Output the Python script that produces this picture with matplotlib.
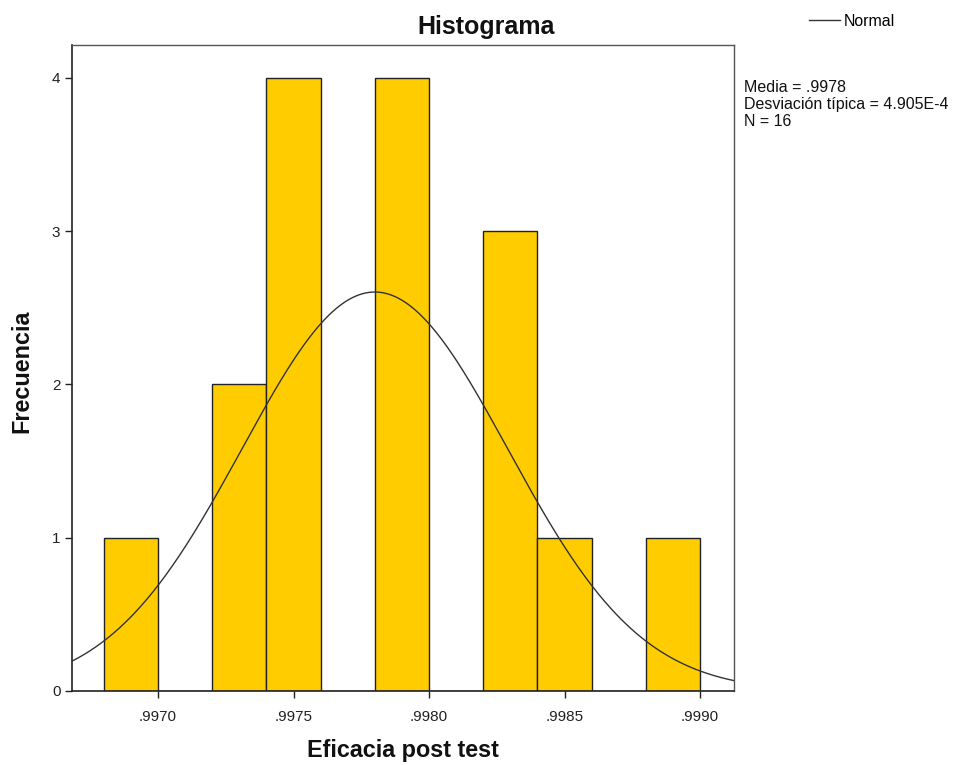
import numpy as np
import matplotlib
matplotlib.use("Agg")
import matplotlib.pyplot as plt

plt.rcParams['font.family'] = ['Liberation Sans', 'DejaVu Sans']

# Data
bin_edges = [0.9968, 0.9970, 0.9972, 0.9974, 0.9976, 0.9978, 0.9980,
             0.9982, 0.9984, 0.9986, 0.9988, 0.9990]
counts = [1, 0, 2, 4, 0, 4, 0, 3, 1, 0, 1]
mean = 0.9978
sd = 4.905e-4
n = 16
xticks = [0.9970, 0.9975, 0.9980, 0.9985, 0.9990]
xtick_labels = ['.9970', '.9975', '.9980', '.9985', '.9990']
yticks = [0, 1, 2, 3, 4]

fig = plt.figure(figsize=(9.65, 7.65), dpi=100)
ax = fig.add_axes([71.5/965, 74/765, (734-71.5)/965, (691-45)/765])

lefts = np.array(bin_edges[:-1])
widths = np.diff(bin_edges)
ax.bar(lefts, counts, width=widths, align='edge', color='#FFCC00',
       edgecolor='#222222', linewidth=1.0, zorder=2)

xlim = (0.996681, 0.999125)
xs = np.linspace(xlim[0], xlim[1], 400)
bw = bin_edges[1] - bin_edges[0]
ys = n * bw / (sd * np.sqrt(2 * np.pi)) * np.exp(-0.5 * ((xs - mean) / sd) ** 2)
line, = ax.plot(xs, ys, color='#333333', linewidth=1.0, zorder=3)

ax.set_xlim(*xlim)
ax.set_ylim(0, 4.214)
ax.set_xticks(xticks)
ax.set_xticklabels(xtick_labels)
ax.set_yticks(yticks)
ax.tick_params(axis='both', direction='out', length=5, width=1, labelsize=11,
               colors='#222222', pad=3)
ax.tick_params(axis='x', pad=9)
for s in ['left', 'bottom']:
    ax.spines[s].set_color('#222222')
    ax.spines[s].set_linewidth(1.2)
for s in ['top', 'right']:
    ax.spines[s].set_color('#555555')
    ax.spines[s].set_linewidth(1.0)

fig.text(486/965, 1 - 27/765, 'Histograma', ha='center', va='center',
         fontsize=18, fontweight='bold', color='#111111')
fig.text(403/965, 1 - 750/765, 'Eficacia post test', ha='center', va='center',
         fontsize=16.8, fontweight='bold', color='#111111')
fig.text(22/965, 1 - 371/765, 'Frecuencia', ha='center', va='center',
         rotation=90, fontsize=16.8, fontweight='bold', color='#111111')

# Legend
fig.legend([line], ['Normal'], loc='center left',
           bbox_to_anchor=(795/965, 1 - 21/765), frameon=False,
           fontsize=11.4, handlelength=1.95, handletextpad=0.2)

fig.text(744/965, 1 - 104.5/765,
         'Media = .9978\nDesviación típica = 4.905E-4\nN = 16',
         ha='left', va='center', fontsize=11.5, color='#111111',
         linespacing=1.16)

fig.savefig('out.png', dpi=100)
